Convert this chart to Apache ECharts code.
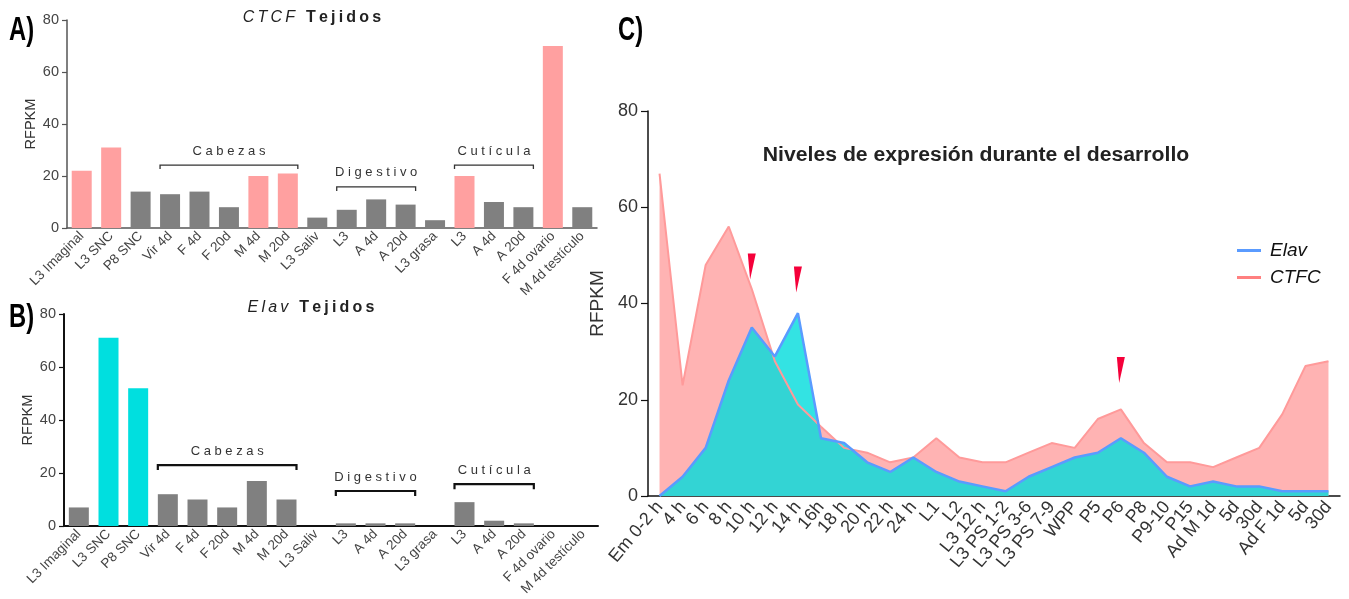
<!DOCTYPE html>
<html><head><meta charset="utf-8">
<script src="https://cdn.jsdelivr.net/npm/echarts@6/dist/echarts.min.js"></script>
<style>html,body{margin:0;padding:0;background:#fff}#c{width:1349px;height:599px}</style>
</head><body><div id="c"></div>
<script>
// ---------- data ----------
const tissueCategories = ['L3 Imaginal','L3 SNC','P8 SNC','Vir 4d','F 4d','F 20d','M 4d','M 20d','L3 Saliv','L3','A 4d','A 20d','L3 grasa','L3','A 4d','A 20d','F 4d ovario','M 4d testículo'];
const ctcfTissueValues = [22,31,14,13,14,8,20,21,4,7,11,9,3,20,10,8,70,8];
const elavTissueValues = [7,71,52,12,10,7,17,10,0,1,1,1,0,9,2,1,0,0];
const ctcfHighlightIdx = [0,1,6,7,13,16];
const elavHighlightIdx = [1,2];
const tissueGroups = ['Cabezas','Digestivo','Cutícula'];
const tissueGroupFrom = [3,9,13];
const tissueGroupTo = [7,11,15];
const groupLevelsA = [24.2,15.8,24.2];
const groupLevelsB = [23,13.2,15.8];

const devCategories = ['Em 0-2 h','4 h','6 h','8 h','10 h','12 h','14 h','16h','18 h','20 h','22 h','24 h','L1','L2','L3 12 h','L3 PS 1-2','L3 PS 3-6','L3 PS 7-9','WPP','P5','P6','P8','P9-10','P15','Ad M 1d','5d','30d','Ad F 1d','5d','30d'];
const elavDevValues = [0,4,10,24,35,29,38,12,11,7,5,8,5,3,2,1,4,6,8,9,12,9,4,2,3,2,2,1,1,1];
const ctcfDevValues = [67,23,48,56,43,28,19,14.4,10,9,7,8,12,8,7,7,9,11,10,16,18,11,7,7,6,8,10,17,27,28];
const arrowIdx = [4,6,20];
const arrowVals = [47.7,45,26.2];

const PINK = '#FFA0A0', GREY = '#808080', CYAN = '#00DFDF';
const FF = '"Liberation Sans", Arial, sans-serif';

const chart = echarts.init(document.getElementById('c'), null, {renderer:'canvas'});

function barAxisX(gi, lineColor, lw) {
  return {gridIndex: gi, type:'category', data: tissueCategories,
    axisLine:{lineStyle:{color:lineColor, width:lw}},
    axisTick:{alignWithLabel:true, length:4, lineStyle:{color:lineColor, width:1.2}},
    axisLabel:{rotate:45, interval:0, fontSize:13.5, color:'#444', fontFamily:FF, margin:6}};
}
function barAxisY(gi, lineColor, lw) {
  return {gridIndex: gi, type:'value', min:0, max:80, interval:20,
    axisLine:{show:true, lineStyle:{color:lineColor, width:lw}},
    axisTick:{show:true, length:5, lineStyle:{color:lineColor, width:1.2}},
    splitLine:{show:false},
    axisLabel:{fontSize:14.5, color:'#444', fontFamily:FF, margin:8},
    name:'RFPKM', nameLocation:'middle', nameGap:28,
    nameTextStyle:{fontSize:14.5, color:'#333', fontFamily:FF}};
}

const option = {
  animation:false,
  textStyle:{fontFamily:FF},
  grid:[
    {left:67, top:20, width:530, height:208, outerBoundsMode:'none'},
    {left:64, top:314, width:534, height:212, outerBoundsMode:'none'},
    {left:648, top:111, width:692, height:385, outerBoundsMode:'none'}
  ],
  xAxis:[
    barAxisX(0,'#555',1.5),
    barAxisX(1,'#111',2),
    {gridIndex:2, type:'category', data: devCategories, boundaryGap:true,
      axisLine:{lineStyle:{color:'#111', width:1.5}},
      axisTick:{alignWithLabel:true, inside:true, length:7, lineStyle:{color:'#111', width:1.2}},
      axisLabel:{rotate:50, interval:0, fontSize:18, color:'#333', fontFamily:FF, margin:8}}
  ],
  yAxis:[
    barAxisY(0,'#555',1.5),
    barAxisY(1,'#111',2),
    {gridIndex:2, type:'value', min:0, max:80, interval:20,
      axisLine:{show:true, lineStyle:{color:'#111', width:1.5}},
      axisTick:{show:true, length:7, lineStyle:{color:'#111', width:1.2}},
      splitLine:{show:false},
      axisLabel:{fontSize:18, color:'#333', fontFamily:FF, margin:10},
      name:'RFPKM', nameLocation:'middle', nameGap:34,
      nameTextStyle:{fontSize:19, color:'#333', fontFamily:FF}}
  ],
  legend:{orient:'vertical', left:1232, top:236, itemWidth:24, itemHeight:3, itemGap:8, icon:'rect',
    data:[{name:'Elav', itemStyle:{color:'#5A9BFF'}},{name:'CTFC', itemStyle:{color:'#FF8080'}}],
    textStyle:{fontStyle:'italic', fontSize:19, color:'#111', fontFamily:FF, padding:[0,0,0,4]}},
  series:[
    {type:'bar', xAxisIndex:0, yAxisIndex:0, barWidth:20,
      data: ctcfTissueValues.map((v,i)=>({value:v, itemStyle:{color: ctcfHighlightIdx.includes(i)?PINK:GREY}}))},
    {type:'bar', xAxisIndex:1, yAxisIndex:1, barWidth:20,
      data: elavTissueValues.map((v,i)=>({value:v, itemStyle:{color: elavHighlightIdx.includes(i)?CYAN:GREY}}))},
    {type:'line', name:'CTFC area', xAxisIndex:2, yAxisIndex:2, data: ctcfDevValues, showSymbol:false, silent:true, z:1,
      lineStyle:{width:0}, itemStyle:{color:'#FFB3B3'}, areaStyle:{color:'#FFB3B3', opacity:1}},
    {type:'line', name:'Elav area', xAxisIndex:2, yAxisIndex:2, data: elavDevValues, showSymbol:false, silent:true, z:2,
      lineStyle:{width:0}, itemStyle:{color:'#00DCDC'}, areaStyle:{color:'rgba(0,220,220,0.8)', opacity:1}},
    {type:'line', name:'CTFC', xAxisIndex:2, yAxisIndex:2, data: ctcfDevValues, showSymbol:false, z:3,
      lineStyle:{color:'#FF9A9A', width:2}, itemStyle:{color:'#FF8080'}},
    {type:'line', name:'Elav', xAxisIndex:2, yAxisIndex:2, data: elavDevValues, showSymbol:false, z:4,
      lineStyle:{color:'#5A9BFF', width:2.5}, itemStyle:{color:'#5A9BFF'},
      markPoint:{silent:true, symbol:'path://M0,0 L7,0 L2,26 Z', symbolSize:[8,26],
        itemStyle:{color:'#F5003A'}, label:{show:false},
        data: arrowIdx.map((c,k)=>({coord:[c, arrowVals[k]]}))}}
  ]
};
chart.setOption(option);

// ---------- annotations ----------
const sp = s => s.split('').join(' ');
const tsp = s => s.split('').join('\u2009');
const g = [];
function brackets(gi, levels, color, lw, tick) {
  tissueGroups.forEach((name, k) => {
    const x1 = chart.convertToPixel({xAxisIndex:gi}, tissueGroupFrom[k]) - 10;
    const x2 = chart.convertToPixel({xAxisIndex:gi}, tissueGroupTo[k]) + 10;
    const y = chart.convertToPixel({yAxisIndex:gi}, levels[k]);
    g.push({type:'polyline', silent:true, shape:{points:[[x1,y+tick],[x1,y],[x2,y],[x2,y+tick]]},
      style:{stroke:color, lineWidth:lw, fill:null}});
    g.push({type:'text', silent:true, x:(x1+x2)/2, y:y-14,
      style:{text:sp(name), fontSize:13, fontFamily:FF, fill:'#333', align:'center', verticalAlign:'middle'}});
  });
}
brackets(0, groupLevelsA, '#333', 1.3, 4);
brackets(1, groupLevelsB, '#111', 2.2, 5);

function title(x, y, ital, bold) {
  g.push({type:'text', silent:true, x:x, y:y,
    style:{text:'{i|'+tsp(ital)+'}{b|\u2009 \u2009'+tsp(bold)+'}', align:'center', verticalAlign:'middle',
      rich:{i:{fontStyle:'italic', fontSize:16, fontFamily:FF, fill:'#222'},
            b:{fontWeight:'bold', fontSize:16, fontFamily:FF, fill:'#222'}}}});
}
title(312, 18, 'CTCF', 'Tejidos');
title(311, 308, 'Elav', 'Tejidos');

g.push({type:'text', silent:true, x:976, y:155, scaleX:1.06,
  style:{text:'Niveles de expresión durante el desarrollo', fontSize:20, fontWeight:'bold', fontFamily:FF, fill:'#222', align:'center', verticalAlign:'middle'}});

[['A)',9,31],['B)',9,318],['C)',618,31]].forEach(([t,x,y]) => {
  g.push({type:'text', silent:true, x:x, y:y, scaleX:0.72,
    style:{text:t, fontSize:33, fontWeight:'bold', fontFamily:FF, fill:'#000', align:'left', verticalAlign:'middle'}});
});

chart.setOption({graphic: g});
</script>
</body></html>
